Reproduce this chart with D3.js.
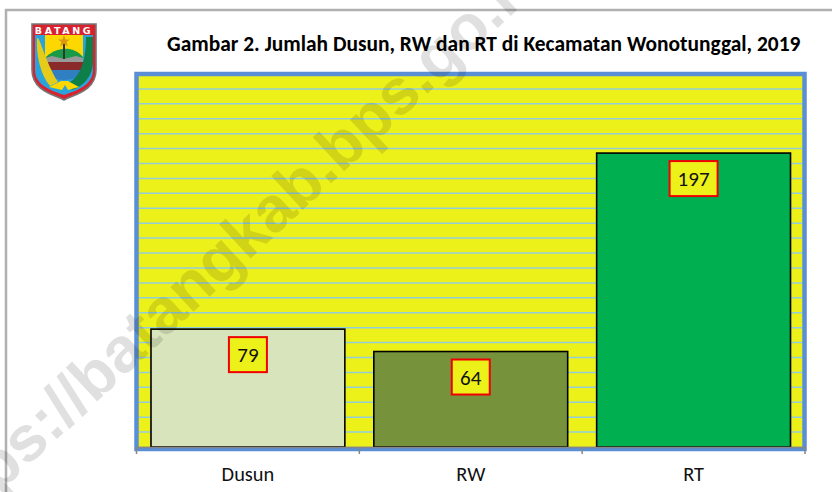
<!DOCTYPE html>
<html><head><meta charset="utf-8">
<script src="https://cdn.jsdelivr.net/npm/d3@7"></script>
<style>html,body{margin:0;padding:0;background:#fff}svg{display:block}text{font-family:Carlito,"Open Sans","Noto Sans",sans-serif}</style>
</head><body><svg id="c" width="832" height="492"></svg>
<script>
const categories=["Dusun","RW","RT"];
const values=[79,64,197];
const barColors=["#d8e4bc","#76933c","#00b050"];
const gridTicks=d3.range(10,250,10);
const title="Gambar 2. Jumlah Dusun, RW dan RT di Kecamatan Wonotunggal, 2019";
const watermark="https://batangkab.bps.go.id";

const svg=d3.select("#c");
svg.append("rect").attr("x",6).attr("y",10).attr("width",840).attr("height",500).attr("fill","#fff").attr("stroke","#b0b0b0").attr("stroke-width",2.5);

const y=d3.scaleLinear().domain([0,250]).range([447,74]);
const x=d3.scaleBand().domain(categories).range([136.5,805]).paddingInner(0.13).paddingOuter(0.065);

svg.append("rect").attr("x",136.5).attr("y",74).attr("width",668).attr("height",375).attr("fill","#edf11a").attr("stroke","#5b8fd5").attr("stroke-width",4.5);
svg.append("g").selectAll("line").data(gridTicks).join("line")
 .attr("x1",139).attr("x2",802).attr("y1",d=>y(d)).attr("y2",d=>y(d)).attr("stroke","#92cddc").attr("stroke-width",1.5);

svg.append("g").selectAll("rect").data(values).join("rect")
 .attr("x",(d,i)=>x(categories[i])).attr("width",x.bandwidth())
 .attr("y",d=>y(d)).attr("height",d=>y(0)-y(d))
 .attr("fill",(d,i)=>barColors[i]).attr("stroke","#000").attr("stroke-width",1.6);

const axis=svg.append("g").attr("transform","translate(0,447.5)").call(d3.axisBottom(x).tickSize(0).tickPadding(19.5));
axis.select(".domain").attr("stroke","#868686").attr("stroke-width",1.5).attr("d","M136.5,0H805");
axis.selectAll("text").attr("font-size",20.4).attr("fill","#111");
svg.append("g").selectAll("line").data([0,1,2,3]).join("line")
 .attr("x1",i=>136.5+i*x.step()).attr("x2",i=>136.5+i*x.step()).attr("y1",447).attr("y2",454).attr("stroke","#868686").attr("stroke-width",1.5);

const labels=svg.append("g").selectAll("g").data(values).join("g")
 .attr("transform",(d,i)=>`translate(${x(categories[i])+x.bandwidth()/2},${y(d)+25.5})`);
labels.append("rect").attr("x",(d)=>String(d).length>2?-24:-19).attr("width",d=>String(d).length>2?48:38).attr("y",-17.5).attr("height",35)
 .attr("fill","#edf11a").attr("stroke","#f00000").attr("stroke-width",2);
labels.append("text").text(d=>d).attr("text-anchor","middle").attr("y",7.5).attr("font-size",21).attr("fill","#111");

svg.append("text").text(title).attr("x",167).attr("y",51).attr("font-size",21.44).attr("font-weight",700).attr("fill","#000");

// emblem
const logo=svg.append("g").attr("transform","translate(32,24)");
const shield="M0,0H64V46C64,66 44,70 32,76C20,70 0,66 0,46Z";
logo.append("path").attr("d",shield).attr("fill","#d8222f").attr("stroke","#777").attr("stroke-width",1.6);
logo.append("path").attr("d","M3,11H61V46C61,62 43,67 32,71C21,67 3,62 3,46Z").attr("fill","#29a3dc");
logo.append("path").attr("d","M13,11H51V46C51,52 42,55 32,55C22,55 13,52 13,46Z").attr("fill","#fdd800");
logo.append("path").attr("d","M13,34C22,24 40,20 51,33V38H13Z").attr("fill","#189a46");
logo.append("path").attr("d","M13,34L20,32L32,35L44,32L51,34V38H13Z").attr("fill","#999");
logo.append("path").attr("d","M13,38H51V46H13Z").attr("fill","#8b2a2a");
logo.append("path").attr("d","M13,46H51C51,52 42,56 32,56C22,56 13,52 13,46Z").attr("fill","#2f7fc2");
logo.append("path").attr("d","M31,17H33V35H31Z").attr("fill","#333");
logo.append("path").attr("d","M32,11L33.6,15.5H38L34.5,18L36,22.5L32,19.8L28,22.5L29.5,18L26,15.5H30.4Z").attr("fill","#d99a12");
logo.append("path").attr("d","M5,14C8,12 12,35 26,58L18,62C8,50 4,30 5,14Z").attr("fill","#e6cc1a");
logo.append("path").attr("d","M54,13H61V40C60,52 52,62 40,66L36,59C47,54 54,40 54,13Z").attr("fill","#0f7f4a");
logo.append("path").attr("d","M17,63L29,57H36L47,63L36,66L33,61L30,66Z").attr("fill","#fdd800");
logo.append("text").text("BATANG").attr("x",32).attr("y",9.8).attr("text-anchor","middle").attr("font-size",9.5).attr("font-weight",700).attr("letter-spacing",2.6).attr("fill","#fff").style("font-family","DejaVu Sans");

svg.append("text").text(watermark).attr("transform","translate(-62,550) rotate(-43)")
 .attr("font-size",64).attr("font-weight",700).attr("fill","#000").attr("fill-opacity",0.12).style("font-family","Liberation Sans");
</script></body></html>
